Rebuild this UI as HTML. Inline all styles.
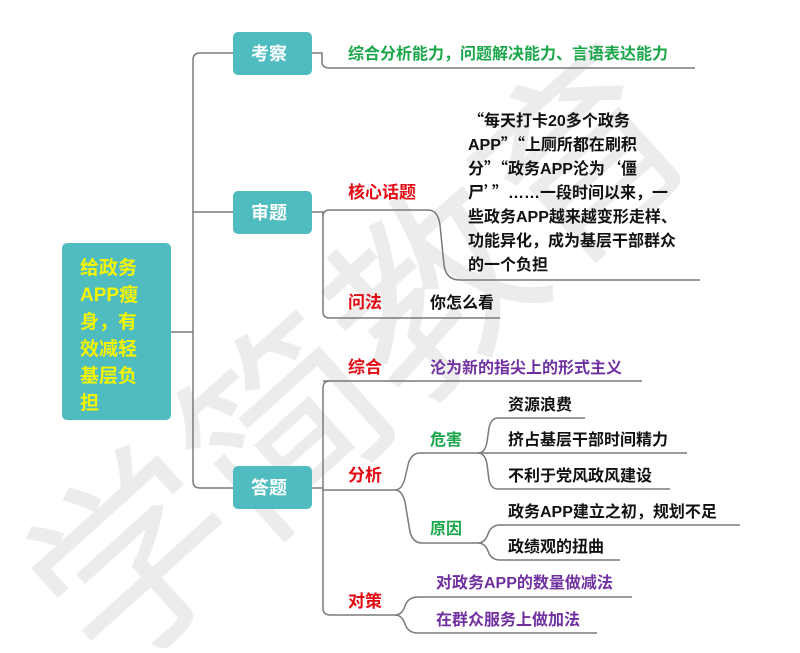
<!DOCTYPE html>
<html><head><meta charset="utf-8"><style>
body{margin:0;width:800px;height:648px;background:#fff;overflow:hidden;font-family:"Liberation Sans","Noto Sans CJK SC",sans-serif;}
svg text{font-family:"Liberation Sans","Noto Sans CJK SC",sans-serif;font-weight:bold;}
svg tspan.q{font-family:"Noto Sans CJK SC",sans-serif;}
</style></head><body>
<svg width="800" height="648" viewBox="0 0 800 648" xmlns="http://www.w3.org/2000/svg">
<text transform="translate(130,560) rotate(-42)" x="-95" y="75" fill="#ececec" font-size="200" style="font-weight:normal">学简教育</text>
<g fill="none" stroke="#7a7a7a" stroke-width="1.5">
<path d="M170 332 H193"/>
<path d="M233 53 H200 Q193 53 193 60 V481 Q193 488 200 488 H233"/>
<path d="M193 212 H233"/>
<path d="M312 53 H322 V62 Q322 68 330 68 H695"/>
<path d="M312 212 H323 V312 Q323 318 330 318 H500"/>
<path d="M323 212 V216 Q323 210 330 210 H428 Q438 210 440 225 L444 265 Q446 280 460 280 H700"/>
<path d="M312 488 H323"/>
<path d="M330 381 Q323 381 323 388 V608 Q323 615 330 615 H395"/>
<path d="M323 381 H642"/>
<path d="M323 490 H395"/>
<path d="M395 490 Q402 490 405 478 L408 465 Q411 453 420 453 H478"/>
<path d="M395 490 Q402 490 405 502 L410 532 Q413 543 422 543 H478"/>
<path d="M478 453 Q485 453 487 442 L489 428 Q491 418 498 418 H585"/>
<path d="M478 453 H687"/>
<path d="M478 453 Q485 453 487 464 L489 480 Q491 489 498 489 H670"/>
<path d="M478 543 Q485 543 488 534 Q491 525 500 525 H740"/>
<path d="M478 543 Q485 543 488 551 Q491 560 500 560 H620"/>
<path d="M395 615 Q402 615 405 606 Q408 597 418 597 H632"/>
<path d="M395 615 Q402 615 405 624 Q408 633 418 633 H597"/>
</g>
<rect x="62" y="243" width="109" height="177" rx="5" fill="#4fbcbf"/>
<g fill="#f6f500" font-size="19">
<text x="80" y="274">给政务</text>
<text x="80" y="301">APP瘦</text>
<text x="80" y="328">身，有</text>
<text x="80" y="355">效减轻</text>
<text x="80" y="382">基层负</text>
<text x="80" y="409">担</text>
</g>
<rect x="233" y="32" width="79" height="43" rx="5" fill="#4fbcbf"/>
<rect x="233" y="191" width="79" height="43" rx="5" fill="#4fbcbf"/>
<rect x="233" y="466" width="79" height="43" rx="5" fill="#4fbcbf"/>
<g fill="#fff" font-size="18">
<text x="251" y="60">考察</text>
<text x="251" y="219">审题</text>
<text x="251" y="494">答题</text>
</g>
<text x="348" y="59" fill="#1aa64a" font-size="16">综合分析能力，问题解决能力、言语表达能力</text>
<g fill="#e30b13" font-size="17">
<text x="348" y="198">核心话题</text>
<text x="348" y="308">问法</text>
<text x="348" y="373">综合</text>
<text x="348" y="481">分析</text>
<text x="348" y="607">对策</text>
</g>
<g fill="#111" font-size="16">
<text x="468" y="126"><tspan class="q">“</tspan>每天打卡20多个政务</text>
<text x="468" y="150">APP<tspan class="q">”“</tspan>上厕所都在刷积</text>
<text x="468" y="174">分<tspan class="q">”“</tspan>政务APP沦为<tspan class="q">‘</tspan>僵</text>
<text x="468" y="198">尸<tspan class="q">’”</tspan>……一段时间以来，一</text>
<text x="468" y="222">些政务APP越来越变形走样、</text>
<text x="468" y="246">功能异化，成为基层干部群众</text>
<text x="468" y="270">的一个负担</text>
<text x="430" y="308">你怎么看</text>
<text x="508" y="410">资源浪费</text>
<text x="508" y="445">挤占基层干部时间精力</text>
<text x="508" y="481">不利于党风政风建设</text>
<text x="508" y="517">政务APP建立之初，规划不足</text>
<text x="508" y="552">政绩观的扭曲</text>
</g>
<g fill="#1aa64a" font-size="16">
<text x="430" y="445">危害</text>
<text x="430" y="534">原因</text>
</g>
<g fill="#7030a0" font-size="16">
<text x="430" y="373">沦为新的指尖上的形式主义</text>
<text x="436" y="588">对政务APP的数量做减法</text>
<text x="436" y="625">在群众服务上做加法</text>
</g>
</svg>
</body></html>
